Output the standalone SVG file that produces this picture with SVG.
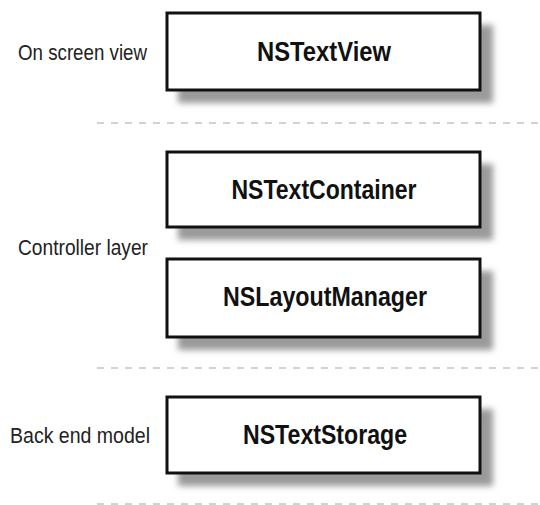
<svg xmlns="http://www.w3.org/2000/svg" width="540" height="505" viewBox="0 0 540 505">
<defs>
<filter id="sh" x="-10%" y="-20%" width="130%" height="160%">
<feGaussianBlur stdDeviation="3"/>
</filter>
<style>
.box{fill:#fff;stroke:#111;stroke-width:3}
.shadow{fill:#9a9a9a;filter:url(#sh)}
.lbl{font-family:"Liberation Sans Narrow","Liberation Sans",Arial,sans-serif;font-weight:bold;font-size:27px;fill:#111;text-anchor:middle}
.side{font-family:"Liberation Sans Narrow","Liberation Sans",Arial,sans-serif;font-size:22px;fill:#222}
.sep{stroke:#c4c4c4;stroke-width:1.5;stroke-dasharray:7 7;fill:none}
</style>
</defs>
<rect width="540" height="505" fill="#fff"/>
<g id="separators">
<line class="sep" x1="97" y1="123" x2="540" y2="123"/>
<line class="sep" x1="97" y1="368" x2="540" y2="368"/>
<line class="sep" x1="97" y1="504" x2="540" y2="504"/>
</g>
<g id="side-labels">
<text class="side" x="18" y="60" textLength="129" lengthAdjust="spacingAndGlyphs">On screen view</text>
<text class="side" x="18" y="255" textLength="130" lengthAdjust="spacingAndGlyphs">Controller layer</text>
<text class="side" x="10" y="443" textLength="140" lengthAdjust="spacingAndGlyphs">Back end model</text>
</g>
<g id="NSTextView">
<rect class="shadow" x="178" y="25" width="315" height="78"/>
<rect class="box" x="167" y="13" width="313" height="77"/>
<text class="lbl" x="324" y="61" textLength="134" lengthAdjust="spacingAndGlyphs">NSTextView</text>
</g>
<g id="NSTextContainer">
<rect class="shadow" x="178" y="164" width="315" height="76"/>
<rect class="box" x="167" y="152" width="313" height="75"/>
<text class="lbl" x="324" y="199" textLength="185" lengthAdjust="spacingAndGlyphs">NSTextContainer</text>
</g>
<g id="NSLayoutManager">
<rect class="shadow" x="178" y="271" width="315" height="79"/>
<rect class="box" x="167" y="259" width="313" height="78"/>
<text class="lbl" x="325" y="306" textLength="204" lengthAdjust="spacingAndGlyphs">NSLayoutManager</text>
</g>
<g id="NSTextStorage">
<rect class="shadow" x="178" y="409" width="315" height="77"/>
<rect class="box" x="167" y="397" width="313" height="76"/>
<text class="lbl" x="325" y="444" textLength="164" lengthAdjust="spacingAndGlyphs">NSTextStorage</text>
</g>
<g id="connectors"></g>
</svg>
